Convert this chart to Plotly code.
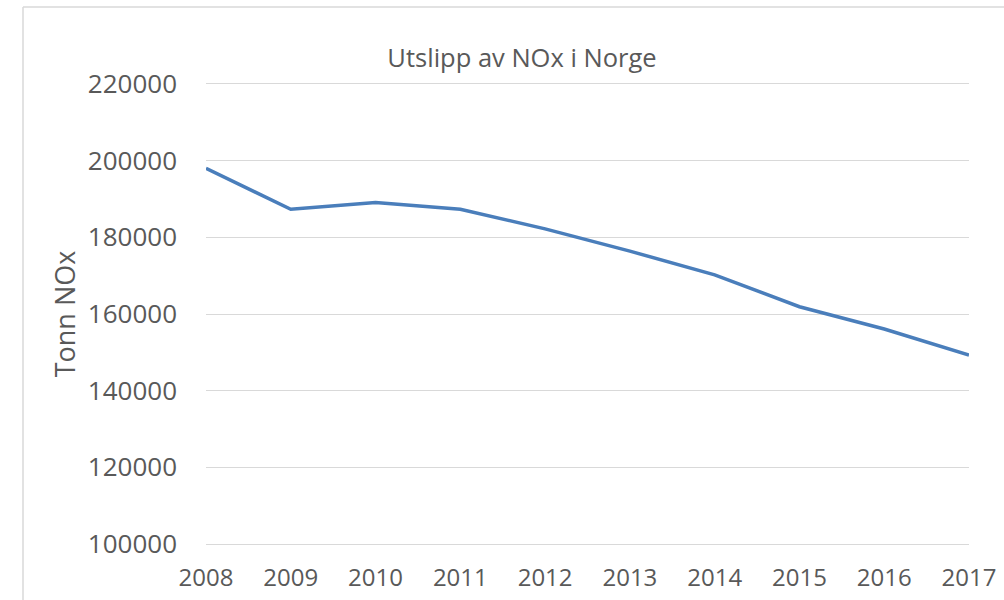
import plotly.graph_objects as go

years = [2008, 2009, 2010, 2011, 2012, 2013, 2014, 2015, 2016, 2017]
nox = [198000, 187300, 189100, 187300, 182200, 176400, 170200, 161900, 156100, 149300]
y_ticks = [100000, 120000, 140000, 160000, 180000, 200000, 220000]

W, H = 1004, 600
L, R, T, B = 206, 35, 82, 54

fig = go.Figure()
fig.add_trace(go.Scatter(x=years, y=nox, mode="lines",
                         line=dict(color="#4A7EBB", width=3.5), showlegend=False,
                         hoverinfo="skip"))

font_family = "Open Sans"
grey = "#595959"

pw = W - L - R
ph = H - T - B
def px_x(px):
    return (px - L) / pw
def px_y(py):
    return (H - B - py) / ph

fig.update_layout(
    width=W, height=H,
    margin=dict(l=L, r=R, t=T, b=B, autoexpand=False),
    paper_bgcolor="white", plot_bgcolor="white",
    font=dict(family=font_family, color=grey),
    title=dict(text="Utslipp av NOx i Norge", x=522 / W, xanchor="center",
               y=1 - 58 / H, yanchor="middle",
               font=dict(size=25.5, family=font_family, color=grey)),
    xaxis=dict(range=[2008, 2017], tickmode="array", tickvals=years,
               ticktext=[str(y) for y in years], showgrid=False, zeroline=False,
               showline=False, ticks="", ticklabelstandoff=15, automargin=False,
               tickfont=dict(size=24, color=grey)),
    yaxis=dict(range=[99500, 220500], tickmode="array", tickvals=y_ticks,
               ticktext=[str(v) for v in y_ticks], showgrid=True,
               gridcolor="#D9D9D9", gridwidth=1.3, zeroline=False, showline=False,
               ticks="", ticklabelstandoff=28, automargin=False,
               tickfont=dict(size=26, color=grey),
               title=dict(text="Tonn NOx", standoff=4,
                          font=dict(size=27, color=grey))),
)

# outer chart frame (top and left edges visible)
fig.add_shape(type="line", xref="paper", yref="paper",
              x0=px_x(23), x1=px_x(1004), y0=px_y(7), y1=px_y(7),
              line=dict(color="#D9D9D9", width=1.5))
fig.add_shape(type="line", xref="paper", yref="paper",
              x0=px_x(23), x1=px_x(23), y0=px_y(7), y1=px_y(600),
              line=dict(color="#D9D9D9", width=1.5))

fig.write_html("out.html", config={"displayModeBar": False},
               post_script="document.body.style.margin='0';document.body.style.overflow='hidden';")
